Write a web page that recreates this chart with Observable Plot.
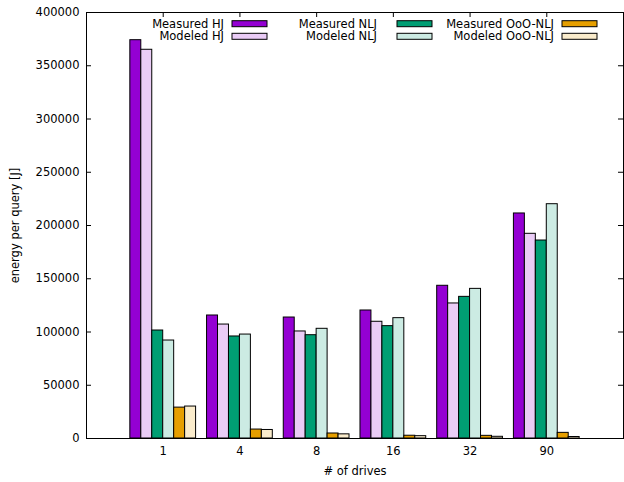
<!DOCTYPE html>
<html><head><meta charset="utf-8">
<script src="https://cdn.jsdelivr.net/npm/d3@7"></script>
<script src="https://cdn.jsdelivr.net/npm/@observablehq/plot@0.6"></script>
<style>
body{margin:0;background:#fff;}
#wrap{position:relative;width:624px;height:482px;}
</style></head><body><div id="wrap"></div>
<script>
const drives = ["1","4","8","16","32","90"];
const series = ["Measured HJ","Modeled HJ","Measured NLJ","Modeled NLJ","Measured OoO-NLJ","Modeled OoO-NLJ"];
const measuredHJ   = [374000,115500,113600,120200,143400,211300];
const modeledHJ    = [365000,107000,100500,109600,126800,192200];
const measuredNLJ  = [101400, 95800, 97000,105500,133000,185900];
const modeledNLJ   = [ 92000, 97600,103000,113000,140500,220000];
const measuredOoO  = [ 29000,  8400,  4700,  2600,  2500,  5300];
const modeledOoO   = [ 30000,  8000,  3900,  2200,  1600,  1400];
const colors = ["#9400d3","#eaccf6","#009e73","#ccebe3","#e69f00","#faeccc"];
const yTicks = d3.range(0, 400001, 50000);

const values = [measuredHJ, modeledHJ, measuredNLJ, modeledNLJ, measuredOoO, modeledOoO];
const rows = [];
values.forEach((arr, si) => arr.forEach((v, gi) => rows.push({series: series[si], si, gi, drive: drives[gi], value: v})));

const W = 624, H = 482, mL = 86, mR = 1, mT = 12, mB = 44;
const pw = W - mL - mR, ph = H - mT - mB;
const groupIdx = drives.map((d, i) => i);

const chart = Plot.plot({
  width: W, height: H,
  marginLeft: mL, marginRight: mR, marginTop: mT, marginBottom: mB,
  style: {fontFamily: "DejaVu Sans, sans-serif", fontSize: "11.5px", color: "#000", background: "#fff"},
  x: {domain: [-1, 6]},
  y: {domain: [0, 400000]},
  color: {domain: series, range: colors},
  marks: [
    Plot.tickY(yTicks, {y: d => d, insetRight: pw - 5, stroke: "black"}),
    Plot.tickY(yTicks, {y: d => d, insetLeft: pw - 5, stroke: "black"}),
    Plot.tickX(groupIdx, {x: d => d, insetTop: ph - 5, stroke: "black"}),
    Plot.tickX(groupIdx, {x: d => d, insetBottom: ph - 5, stroke: "black"}),
    Plot.rectY(rows, {
      x1: d => d.gi + (d.si - 3) / 7,
      x2: d => d.gi + (d.si - 2) / 7,
      y1: 0, y2: "value",
      fill: "series", stroke: "black", strokeWidth: 1
    }),
    Plot.axisY({ticks: yTicks, tickSize: 0, tickPadding: 7, tickFormat: d3.format("d"),
      label: "energy per query [J]", labelAnchor: "center", labelArrow: "none", labelOffset: 76}),
    Plot.axisX({ticks: groupIdx, tickSize: 0, tickPadding: 8, tickFormat: i => drives[i],
      label: "# of drives", labelAnchor: "center", labelArrow: "none", labelOffset: 36}),
    Plot.frame({stroke: "black"})
  ]
});

// legend (inside plot area, three columns)
const svg = d3.select(chart);
const swatchLeft = [232, 397, 562];
const textRight = [224, 377, 554];
const rowY = [23.7, 36.3];
series.forEach((s, i) => {
  const c = Math.floor(i / 2), r = i % 2;
  svg.append("text")
    .attr("x", textRight[c]).attr("y", rowY[r])
    .attr("text-anchor", "end").attr("dominant-baseline", "central")
    .attr("font-family", "DejaVu Sans, sans-serif").attr("font-size", "11.5px")
    .attr("fill", "black").text(s);
  svg.append("rect")
    .attr("x", swatchLeft[c]).attr("y", rowY[r] - 3)
    .attr("width", 35).attr("height", 6)
    .attr("fill", colors[i]).attr("stroke", "black").attr("stroke-width", 1);
});

document.getElementById("wrap").appendChild(chart);
</script>
</body></html>
